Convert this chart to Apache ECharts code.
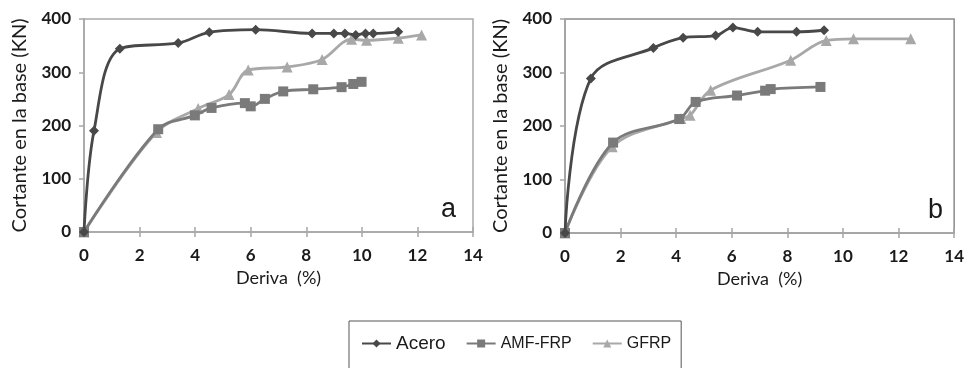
<!DOCTYPE html>
<html>
<head>
<meta charset="utf-8">
<script src="https://cdn.jsdelivr.net/npm/echarts@6/dist/echarts.min.js"></script>
<style>
  html, body { margin: 0; padding: 0; background: #ffffff; }
  #chart { width: 967px; height: 368px; }
</style>
</head>
<body>
<div id="chart"></div>
<script>
// Shear at the base vs. drift, two test frames (a) and (b)
const seriesNames = ['Acero', 'AMF-FRP', 'GFRP'];
const xTicks = [0, 2, 4, 6, 8, 10, 12, 14];
const yTicks = [0, 100, 200, 300, 400];

// Frame a
const aceroA_x = [0, 0.36, 1.29, 3.39, 4.51, 6.18, 8.21, 8.99, 9.39, 9.78, 10.13, 10.41, 11.31];
const aceroA_y = [0, 190, 344, 355, 375, 380, 373, 373, 373, 370, 373, 373, 376];
const amfA_x = [0, 2.67, 3.99, 4.59, 5.79, 6.0, 6.51, 7.17, 8.25, 9.27, 9.69, 9.99];
const amfA_y = [0, 193, 219, 233, 242, 236, 250, 264, 268, 272, 278, 282];
const gfrpA_x = [0, 2.61, 4.11, 5.22, 5.91, 7.31, 8.57, 9.63, 10.17, 11.31, 12.15];
const gfrpA_y = [0, 187, 232, 258, 304, 310, 324, 362, 360, 364, 370];

// Frame b
const aceroB_x = [0, 0.93, 3.18, 4.25, 5.42, 6.04, 6.93, 8.33, 9.32];
const aceroB_y = [0, 289, 346, 365, 369, 384, 376, 376, 379];
const amfB_x = [0, 1.73, 4.11, 4.70, 6.19, 7.20, 7.40, 9.19];
const amfB_y = [0, 169, 213, 245, 257, 266, 269, 273];
const gfrpB_x = [0, 1.70, 4.17, 4.50, 5.24, 8.12, 9.40, 10.38, 12.44];
const gfrpB_y = [0, 161, 214, 220, 267, 323, 360, 363, 363];

const panelLabels = ['a', 'b'];

const pair = (xs, ys) => xs.map((x, i) => [x, ys[i]]);

const colors = { 'Acero': '#484848', 'AMF-FRP': '#7a7a7a', 'GFRP': '#a8a8a8' };
const symbols = { 'Acero': ['diamond', 10], 'AMF-FRP': ['rect', 10], 'GFRP': ['triangle', 11] };
const axisGray = '#a6a6a6';
const textColor = '#1a1a1a';
const font = 'Lato';

function makeSeries(name, data, axisIdx) {
  return {
    name: name,
    type: 'line',
    xAxisIndex: axisIdx,
    yAxisIndex: axisIdx / 2,
    data: data,
    smooth: 0.35,
    symbol: symbols[name][0],
    symbolSize: symbols[name][1],
    showSymbol: true,
    color: colors[name],
    lineStyle: { width: 2.8, color: colors[name] },
    itemStyle: { color: colors[name] },
    z: name === 'Acero' ? 4 : (name === 'AMF-FRP' ? 3 : 2)
  };
}

function xAxes(gridIndex) {
  const base = {
    gridIndex: gridIndex,
    type: 'value',
    min: xTicks[0],
    max: xTicks[xTicks.length - 1],
    interval: xTicks[1] - xTicks[0],
    splitLine: { show: false }
  };
  return [
    Object.assign({}, base, {
      position: 'bottom',
      axisLine: { show: true, lineStyle: { color: axisGray, width: 1.5 } },
      axisTick: { show: true, length: 5, lineStyle: { color: axisGray, width: 1.5 } },
      axisLabel: { color: textColor, fontSize: 17, fontWeight: 'bold', fontFamily: font, margin: 15 },
      name: 'Deriva  (%)',
      nameLocation: 'middle',
      nameGap: 32,
      nameTextStyle: { color: textColor, fontSize: 18, fontFamily: font }
    }),
    Object.assign({}, base, {
      position: 'bottom',
      axisLine: { show: false },
      axisTick: { show: true, inside: true, length: 5, lineStyle: { color: axisGray, width: 1.5 } },
      axisLabel: { show: false }
    })
  ];
}

function yAxis(gridIndex) {
  return {
    gridIndex: gridIndex,
    type: 'value',
    min: yTicks[0],
    max: yTicks[yTicks.length - 1],
    interval: yTicks[1] - yTicks[0],
    splitLine: { show: false },
    axisLine: { show: true, lineStyle: { color: axisGray, width: 1.5 } },
    axisTick: { show: true, length: 5, lineStyle: { color: axisGray, width: 1.5 } },
    axisLabel: { color: textColor, fontSize: 17, fontWeight: 'bold', fontFamily: font, margin: 13 },
    name: 'Cortante en la base (KN)',
    nameLocation: 'middle',
    nameGap: 54,
    nameTextStyle: { color: textColor, fontSize: 20, fontFamily: font }
  };
}

const chart = echarts.init(document.getElementById('chart'), null, { renderer: 'canvas' });

chart.setOption({
  backgroundColor: '#ffffff',
  animation: false,
  grid: [
    { left: 84, right: 494, top: 19, bottom: 136, show: true, borderColor: '#a9a9a9', borderWidth: 1.5, backgroundColor: 'transparent' },
    { left: 565, right: 10, top: 19, bottom: 135, show: true, borderColor: '#8a8a8a', borderWidth: 1.5, backgroundColor: 'transparent' }
  ],
  xAxis: xAxes(0).concat(xAxes(1)),
  yAxis: [yAxis(0), yAxis(1)],
  legend: {
    data: seriesNames,
    left: 349,
    top: 321,
    padding: [13, 10, 24, 12],
    itemGap: 20,
    itemWidth: 29,
    itemHeight: 10,
    borderColor: '#555555',
    borderWidth: 1,
    formatter: name => name === 'Acero' ? '{big|' + name + '}' : '{small|' + name + '}',
    textStyle: {
      color: textColor,
      fontFamily: 'Liberation Sans',
      rich: {
        big: { fontSize: 19, fontFamily: 'Liberation Sans', color: textColor },
        small: { fontSize: 16, fontFamily: 'Liberation Sans', color: textColor }
      }
    }
  },
  graphic: [
    { type: 'text', left: 441, top: 196, style: { text: panelLabels[0], font: '27px "Liberation Sans"', fill: textColor } },
    { type: 'text', left: 928, top: 197, style: { text: panelLabels[1], font: '27px "Liberation Sans"', fill: textColor } }
  ],
  series: [
    makeSeries('GFRP', pair(gfrpA_x, gfrpA_y), 0),
    makeSeries('AMF-FRP', pair(amfA_x, amfA_y), 0),
    makeSeries('Acero', pair(aceroA_x, aceroA_y), 0),
    makeSeries('GFRP', pair(gfrpB_x, gfrpB_y), 2),
    makeSeries('AMF-FRP', pair(amfB_x, amfB_y), 2),
    makeSeries('Acero', pair(aceroB_x, aceroB_y), 2)
  ]
});
</script>
</body>
</html>
